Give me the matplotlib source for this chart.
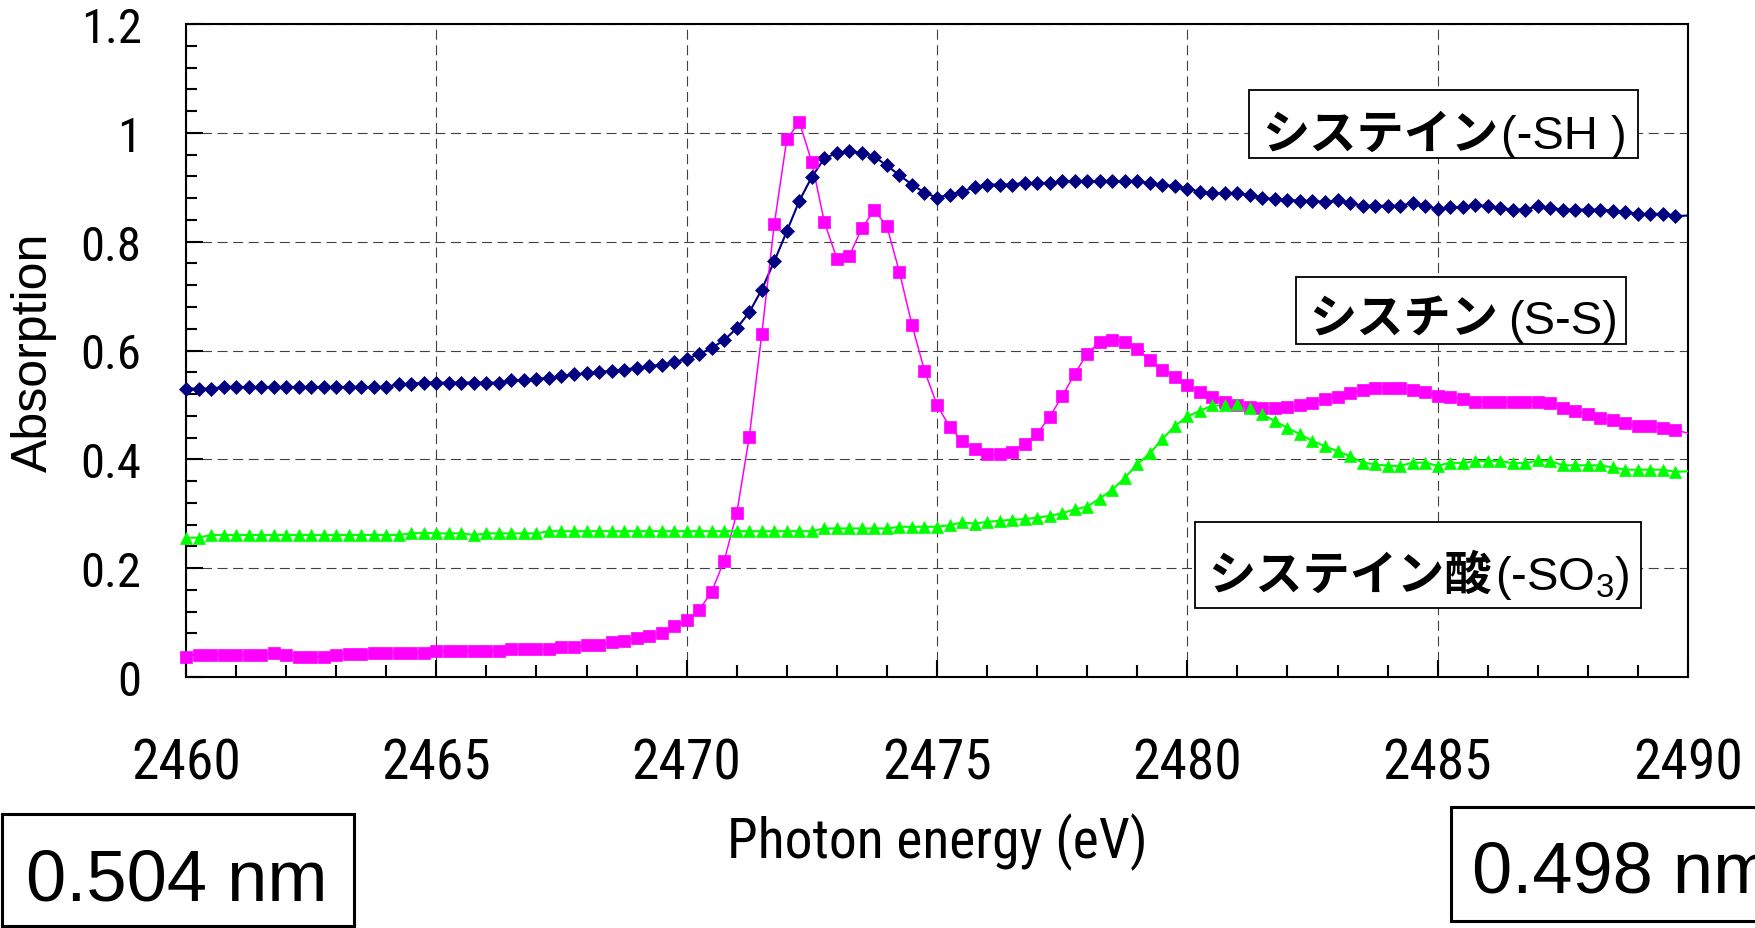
import numpy as np
import matplotlib
matplotlib.use('Agg')
import matplotlib.pyplot as plt
from matplotlib import font_manager
from matplotlib.patches import Rectangle
from matplotlib.ticker import MultipleLocator

# 光子エネルギー 2460-2490 eV (0.25 eV step)
energy = 2460 + 0.25 * np.arange(121)

# システイン (-SH)
cysteine = [0.530, 0.530, 0.530, 0.533, 0.533, 0.533, 0.533, 0.533, 0.533, 0.533,
            0.533, 0.533, 0.533, 0.533, 0.533, 0.533, 0.533, 0.538, 0.539, 0.541,
            0.541, 0.541, 0.541, 0.541, 0.541, 0.541, 0.545, 0.545, 0.548, 0.550,
            0.553, 0.556, 0.558, 0.560, 0.563, 0.565, 0.568, 0.571, 0.574, 0.578,
            0.585, 0.593, 0.605, 0.619, 0.641, 0.670, 0.712, 0.764, 0.819, 0.875,
            0.919, 0.953, 0.963, 0.967, 0.963, 0.956, 0.940, 0.922, 0.905, 0.890,
            0.881, 0.886, 0.892, 0.900, 0.905, 0.905, 0.905, 0.908, 0.908, 0.908,
            0.911, 0.911, 0.911, 0.911, 0.911, 0.911, 0.911, 0.908, 0.905, 0.902,
            0.897, 0.892, 0.889, 0.889, 0.889, 0.886, 0.881, 0.878, 0.877, 0.875,
            0.875, 0.873, 0.876, 0.871, 0.866, 0.866, 0.866, 0.866, 0.871, 0.866,
            0.860, 0.863, 0.863, 0.868, 0.865, 0.862, 0.859, 0.859, 0.865, 0.862,
            0.859, 0.859, 0.859, 0.859, 0.857, 0.854, 0.851, 0.851, 0.851, 0.847,
            0.848]

# シスチン (S-S)
cystine = [0.037, 0.041, 0.041, 0.041, 0.041, 0.041, 0.041, 0.044, 0.041, 0.037,
           0.037, 0.037, 0.041, 0.042, 0.042, 0.045, 0.045, 0.045, 0.045, 0.045,
           0.047, 0.048, 0.048, 0.048, 0.048, 0.048, 0.051, 0.051, 0.051, 0.051,
           0.056, 0.056, 0.059, 0.059, 0.064, 0.067, 0.071, 0.075, 0.081, 0.093,
           0.104, 0.123, 0.157, 0.214, 0.301, 0.441, 0.630, 0.832, 0.988, 1.020,
           0.946, 0.836, 0.769, 0.774, 0.825, 0.858, 0.828, 0.744, 0.647, 0.563,
           0.500, 0.460, 0.434, 0.419, 0.409, 0.409, 0.413, 0.429, 0.447, 0.478,
           0.516, 0.557, 0.594, 0.616, 0.620, 0.616, 0.602, 0.583, 0.565, 0.551,
           0.536, 0.524, 0.514, 0.506, 0.499, 0.497, 0.495, 0.495, 0.496, 0.499,
           0.504, 0.510, 0.514, 0.521, 0.528, 0.532, 0.532, 0.532, 0.528, 0.524,
           0.517, 0.515, 0.510, 0.506, 0.506, 0.506, 0.506, 0.506, 0.506, 0.503,
           0.495, 0.488, 0.484, 0.476, 0.472, 0.466, 0.461, 0.461, 0.458, 0.454,
           0.448]

# システイン酸 (-SO3)
cysteic = [0.256, 0.256, 0.261, 0.261, 0.261, 0.261, 0.261, 0.261, 0.261, 0.261,
           0.261, 0.261, 0.261, 0.261, 0.261, 0.261, 0.261, 0.261, 0.264, 0.265,
           0.264, 0.264, 0.264, 0.261, 0.264, 0.264, 0.264, 0.264, 0.264, 0.268,
           0.268, 0.268, 0.268, 0.268, 0.268, 0.268, 0.268, 0.268, 0.268, 0.268,
           0.268, 0.268, 0.268, 0.268, 0.268, 0.268, 0.268, 0.268, 0.268, 0.268,
           0.268, 0.273, 0.273, 0.273, 0.273, 0.273, 0.273, 0.276, 0.276, 0.276,
           0.276, 0.279, 0.284, 0.282, 0.285, 0.287, 0.289, 0.290, 0.293, 0.296,
           0.301, 0.308, 0.313, 0.328, 0.344, 0.366, 0.391, 0.411, 0.437, 0.461,
           0.479, 0.489, 0.499, 0.499, 0.501, 0.495, 0.483, 0.470, 0.458, 0.446,
           0.434, 0.424, 0.415, 0.406, 0.394, 0.391, 0.388, 0.388, 0.394, 0.394,
           0.388, 0.394, 0.393, 0.397, 0.397, 0.397, 0.393, 0.393, 0.398, 0.397,
           0.389, 0.389, 0.389, 0.389, 0.385, 0.381, 0.381, 0.381, 0.381, 0.377,
           0.378]

xticks = [2460, 2465, 2470, 2475, 2480, 2485, 2490]
xtick_labels = ['2460', '2465', '2470', '2475', '2480', '2485', '2490']
yticks = [0, 0.2, 0.4, 0.6, 0.8, 1.0, 1.2]
ytick_labels = ['0', '0.2', '0.4', '0.6', '0.8', '1', '1.2']

jp_names = ['システイン', 'シスチン', 'システイン酸']
groups = ['(-SH )', '(S-S)', '(-SO$_3$)']
wavelengths = ['0.504 nm', '0.498 nm']

# 細めのフォントがあれば使う (無ければ Liberation Sans を小さめに)
ttf = font_manager.fontManager.ttflist
names = {f.name for f in ttf}
narrow_fam, narrow_stretch, k = 'Liberation Sans', 'normal', 0.86
for cand in ['Liberation Sans Narrow', 'Arial Narrow', 'Roboto Condensed',
             'Open Sans Condensed', 'Noto Sans Condensed']:
    if cand in names:
        narrow_fam, narrow_stretch, k = cand, 'normal', 1.0
        break
else:
    for fam in ['Noto Sans', 'Roboto', 'Open Sans', 'DejaVu Sans']:
        if any(f.name == fam and f.stretch in ('condensed', 'semi-condensed')
               for f in ttf):
            narrow_fam, narrow_stretch, k = fam, 'condensed', 1.0
            break
NARROW = dict(fontfamily=[narrow_fam, 'DejaVu Sans'], fontstretch=narrow_stretch)
SANS = ['Liberation Sans', 'DejaVu Sans']
plt.rcParams['mathtext.fontset'] = 'custom'
plt.rcParams['mathtext.rm'] = 'Liberation Sans'

W, H = 1755, 929
fig = plt.figure(figsize=(W / 100, H / 100), dpi=100)
ax = fig.add_axes([186 / W, 1 - 678 / H, (1688 - 186) / W, (678 - 25) / H])


def fx(px):
    return px / W


def fy(py):
    return 1 - py / H


# 系列
series = [
    (cysteine, '#000080', 'D', 7.0, 1.5),
    (cystine, '#FF00FF', 's', 8.0, 1.1),
    (cysteic, '#00FF00', '^', 8.5, 1.5),
]
for vals, col, mk, ms, lw in series:
    vals = np.array(vals)
    ax.plot(energy, vals, '-', color=col, lw=lw, zorder=3)
    ax.plot(energy[:-1], vals[:-1], ls='none', marker=mk, ms=ms, color=col,
            mec=col, mew=0.5, clip_on=False, zorder=4)

ax.set_xlim(2460, 2490)
ax.set_ylim(0, 1.2)
ax.set_xticks(xticks)
ax.set_xticklabels(xtick_labels, fontsize=40 * k, **NARROW)
ax.set_yticks(yticks)
ax.set_yticklabels(ytick_labels, fontsize=35 * k, **NARROW)
ax.xaxis.set_minor_locator(MultipleLocator(1))
ax.yaxis.set_minor_locator(MultipleLocator(0.04))
ax.tick_params(axis='x', which='major', direction='in', length=12, width=1.5,
               pad=43 + (1 - k) * 20)
ax.tick_params(axis='x', which='minor', direction='in', length=8.5, width=1.5)
ax.tick_params(axis='y', which='major', direction='in', length=12, width=1.5, pad=32)
ax.tick_params(axis='y', which='minor', direction='in', length=8, width=1.5)
for s in ax.spines.values():
    s.set_linewidth(1.5)
ax.grid(True, which='major', color='#404040', lw=0.8, linestyle=(0, (9, 5)))
ax.set_axisbelow(True)

# 軸ラベル
fig.text(fx(34), fy(352), 'Absorption', rotation=90, ha='center', va='center',
         fontfamily=SANS, fontsize=36)
fig.text(fx(937), fy(842), 'Photon energy (eV)', ha='center', va='center',
         fontsize=40 * k, **NARROW)

# 化合物ラベル: 枠, 和名の左端, 官能基の右端, ベースライン
boxes = [(1249, 91, 1638, 159), (1296, 278, 1626, 345), (1195, 523, 1641, 609)]
text_pos = [(1262, 1627, 149), (1309, 1618, 334), (1208, 1630, 590)]
for (x0, y0, x1, y1), (xl, xr, yb), jp, grp in zip(boxes, text_pos, jp_names, groups):
    fig.patches.append(Rectangle((fx(x0), fy(y1)), fx(x1 - x0), (y1 - y0) / H,
                                 transform=fig.transFigure, fc='white', ec='black',
                                 lw=1.3, zorder=5))
    fig.text(fx(xl), fy(yb), jp, ha='left', va='baseline',
             fontfamily=['Noto Sans CJK JP', 'DejaVu Sans'], fontweight='bold',
             fontsize=34, zorder=6)
    fig.text(fx(xr), fy(yb), grp, ha='right', va='baseline', fontfamily=SANS,
             fontsize=34, zorder=6)

# 波長ボックス
fig.patches.append(Rectangle((fx(1.5), fy(927)), fx(352.5), (927 - 815) / H,
                             transform=fig.transFigure, fc='white', ec='black',
                             lw=2.2, zorder=5))
fig.text(fx(177), fy(901), wavelengths[0], ha='center', va='baseline',
         fontfamily=SANS, fontsize=52, zorder=6)
fig.patches.append(Rectangle((fx(1451), fy(922)), fx(400), (922 - 808) / H,
                             transform=fig.transFigure, fc='white', ec='black',
                             lw=2.2, zorder=5))
fig.text(fx(1472), fy(893), wavelengths[1], ha='left', va='baseline',
         fontfamily=SANS, fontsize=52, zorder=6)

fig.savefig('out.png', dpi=100)
